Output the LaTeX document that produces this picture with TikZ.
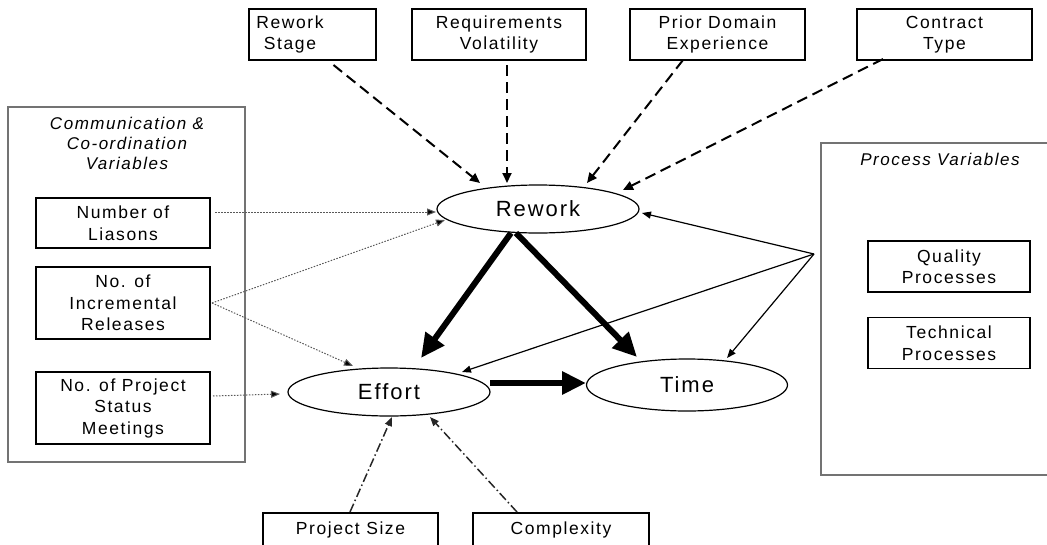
\documentclass[tikz,border=0pt]{standalone}
\usepackage{fontspec}
\usetikzlibrary{arrows.meta,shapes.geometric}
\newfontfamily\af{Liberation Sans}[LetterSpace=9]
\newcommand{\bxfont}{\af\fontsize{17.5}{21.5}\selectfont}
\newcommand{\ttfont}{\af\fontsize{17}{20}\selectfont}
\newcommand{\elfont}{\af\fontsize{22}{24}\selectfont}
\tikzset{
  box/.style={draw=black, line width=1.2pt, inner sep=0pt, align=center, font=\bxfont, fill=white},
  gbox/.style={draw=black!55, line width=1.2pt},
  ttl/.style={font=\ttfont\itshape, align=center, inner sep=0pt},
  lbl/.style={font=\bxfont, align=center, inner sep=0pt},
  ell/.style={ellipse, draw=black, line width=1.2pt, inner sep=0pt, font=\elfont},
  dsh/.style={line width=2pt, dash pattern=on 11pt off 6pt, -{Triangle[length=10pt,width=9pt]}},
  dtd/.style={line width=1pt, black!65, dash pattern=on 1.5pt off 1.5pt, -{Triangle[length=9pt,width=7pt,fill=black]}},
  dd/.style={line width=1.5pt, black!85, dash pattern=on 9pt off 3pt on 1.5pt off 3pt, -{Triangle[length=9pt,width=7pt]}},
  thk/.style={line width=6pt, -{Triangle[length=24pt,width=22pt]}},
  thn/.style={line width=1.2pt, -{Triangle[length=9pt,width=7pt]}},
}
\begin{document}
\begin{tikzpicture}[x=1pt,y=-1pt]
\useasboundingbox (0,0) rectangle (1047,544);
\clip (0,0) rectangle (1047,544);
% group frames
\draw[gbox] (8,107) rectangle (245,462);
\node[ttl] (ctitle) at (127,143) {Communication \&\\Co-ordination\\Variables};
\draw[gbox] (821,143) rectangle (1060,475);
\node[ttl] (ptitle) at (940,159) {Process Variables};
% top boxes
\node[box, minimum width=127pt, minimum height=51pt] (rs) at (312.5,34.5) {};
\node[lbl] (rst) at (290,34.5) {Rework\\Stage};
\node[box, minimum width=174pt, minimum height=51pt] (rv) at (499,34.5) {Requirements\\Volatility};
\node[box, minimum width=175pt, minimum height=51pt] (pd) at (717.5,34.5) {Prior Domain\\Experience};
\node[box, minimum width=175pt, minimum height=51pt] (ct) at (944.5,34.5) {Contract\\Type};
% left boxes
\node[box, minimum width=174pt, minimum height=50pt] (nl) at (123,223) {Number of\\Liasons};
\node[box, minimum width=174pt, minimum height=72pt] (ir) at (123,303) {No. of\\Incremental\\Releases};
\node[box, minimum width=174pt, minimum height=72pt] (sm) at (123,408) {No. of Project\\Status\\Meetings};
% right boxes
\node[box, minimum width=162pt, minimum height=51pt] (qp) at (949,266.5) {Quality\\Processes};
\node[box, minimum width=162pt, minimum height=51pt] (tp) at (949,343) {Technical\\Processes};
% bottom boxes
\node[box, minimum width=175pt, minimum height=34pt] (ps) at (350.5,530) {Project Size};
\node[box, minimum width=176pt, minimum height=34pt] (cx) at (561,530) {Complexity};
% ellipses
\node[ell, minimum width=202pt, minimum height=48pt] (rw) at (538,209) {Rework};
\node[ell, minimum width=202pt, minimum height=48pt] (ef) at (389,392) {Effort};
\node[ell, minimum width=201pt, minimum height=52pt] (tm) at (687,385) {Time};
\coordinate (pv) at (814,254);
% dashed influences on rework
\draw[dsh] ([shift={(21,30.5)}]rs.center) -- ([shift={(-58,-26)}]rw.center);
\draw[dsh] ([shift={(8,30.5)}]rv.center) -- ([shift={(-31,-26)}]rw.center);
\draw[dsh] ([shift={(-34.5,25.5)}]pd.center) -- ([shift={(49,-26)}]rw.center);
\draw[dsh] ([shift={(-61.5,24.5)}]ct.center) -- ([shift={(85,-19)}]rw.center);
% dotted communication links
\draw[dtd] ([shift={(92,-11)}]nl.center) -- ([shift={(-102,3)}]rw.center);
\draw[dtd] ([shift={(89,0)}]ir.center) -- ([shift={(-93,11)}]rw.center);
\draw[dtd] ([shift={(89,0)}]ir.center) -- ([shift={(-36,-26)}]ef.center);
\draw[dtd] ([shift={(90,-12)}]sm.center) -- ([shift={(-109,2)}]ef.center);
% thick causal arrows
\draw[thk] ([shift={(-27,24)}]rw.center) -- ([shift={(32,-34)}]ef.center);
\draw[thk] ([shift={(-22,24)}]rw.center) -- ([shift={(-50,-28)}]tm.center);
\draw[thk] ([shift={(101,-9)}]ef.center) -- ([shift={(-101,-2)}]tm.center);
% process variable links
\draw[thn] (pv) -- ([shift={(104,4)}]rw.center);
\draw[thn] (pv) -- ([shift={(73,-20)}]ef.center);
\draw[thn] (pv) -- ([shift={(40,-27)}]tm.center);
% dash-dot links to effort
\draw[dd] ([shift={(-0.5,-18)}]ps.center) -- ([shift={(3,25)}]ef.center);
\draw[dd] ([shift={(-44,-18)}]cx.center) -- ([shift={(41,25)}]ef.center);
\end{tikzpicture}
\end{document}
